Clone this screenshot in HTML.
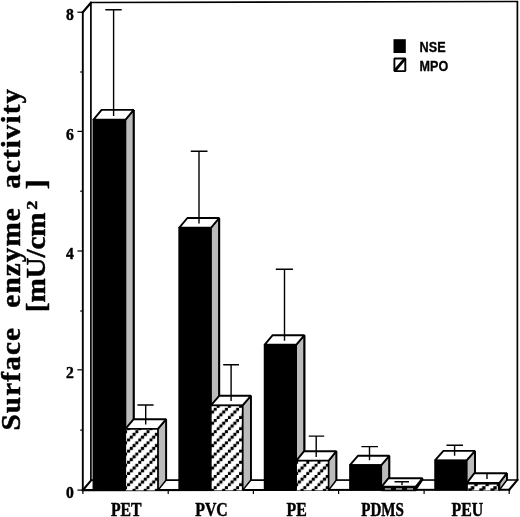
<!DOCTYPE html>
<html><head><meta charset="utf-8"><title>Surface enzyme activity</title>
<style>
html,body{margin:0;padding:0;background:#fff;}
body{width:520px;height:517px;overflow:hidden;font-family:"Liberation Serif",serif;}
svg{display:block;}
.ln{stroke:#000;stroke-width:1.5;fill:none;stroke-linecap:square;}
.th{stroke:#000;stroke-width:1.2;fill:none;}
.ser{font-family:"Liberation Serif",serif;font-weight:bold;fill:#000;stroke:#000;stroke-width:0.45;stroke-linejoin:round;}
.sans{font-family:"Liberation Sans",sans-serif;font-weight:bold;fill:#000;stroke:#000;stroke-width:0.3;}
</style></head><body>
<svg width="520" height="517" viewBox="0 0 520 517">
<defs>
<pattern id="hatch" patternUnits="userSpaceOnUse" width="11.2" height="11.2" x="127.1" y="430.2">
<rect width="11.2" height="11.2" fill="#fff"/>
<g fill="#000"><rect x="-0.18" y="8.22" width="3.15" height="3.15"/><rect x="2.62" y="5.42" width="3.15" height="3.15"/><rect x="5.42" y="2.62" width="3.15" height="3.15"/><rect x="8.22" y="-0.18" width="3.15" height="3.15"/></g>
</pattern>
<pattern id="hatchB" patternUnits="userSpaceOnUse" width="11.2" height="11.2" x="127.1" y="430.2">
<rect width="11.2" height="11.2" fill="#fff"/>
<g fill="#000"><rect x="-0.6" y="7.8" width="4" height="4"/><rect x="2.2" y="5" width="4" height="4"/><rect x="5" y="2.2" width="4" height="4"/><rect x="7.8" y="-0.6" width="4" height="4"/></g>
</pattern>
</defs>
<rect width="520" height="517" fill="#fff"/>

<g class="ln">
<path d="M90.9,480.0 L90.9,2.5 L517.4,1.5 L517.4,480.0 L90.9,480.1" stroke-width="1.7"/>
<path d="M82.8,12.2 L82.8,490.1" stroke-width="1.9"/>
<path d="M82.8,490.1 L509.2,489.8" stroke-width="2.1"/>
<path d="M82.8,12.2 L90.9,2.7 M82.8,490.1 L90.9,480.6 M509.2,489.8 L517.4,480.0" stroke-width="2.2"/>
</g>
<g class="th">
<path d="M77.4,490.1 L82.8,490.1"/>
<path d="M80.2,430.1 L82.8,430.1"/>
<path d="M77.4,369.8 L82.8,369.8"/>
<path d="M80.2,311.0 L82.8,311.0"/>
<path d="M77.4,251.0 L82.8,251.0"/>
<path d="M80.2,191.2 L82.8,191.2"/>
<path d="M77.4,131.4 L82.8,131.4"/>
<path d="M80.2,72.0 L82.8,72.0"/>
<path d="M77.4,12.2 L82.8,12.2"/>
<path d="M82.9,490.3 L82.9,494"/>
<path d="M168.2,490.3 L168.2,494"/>
<path d="M253.4,490.3 L253.4,494"/>
<path d="M338.6,490.3 L338.6,494"/>
<path d="M424.1,490.3 L424.1,494"/>
<path d="M509.2,490.3 L509.2,494"/>
</g>
<polygon points="125.4,119.8 133.7,109.9 133.7,480.0 125.4,490.4" fill="#bbbbbb" stroke="#000" stroke-width="1.5" stroke-linejoin="bevel"/>
<polygon points="93.3,119.8 101.6,109.9 133.7,109.9 125.4,119.8" fill="#fff" stroke="#000" stroke-width="1.9" stroke-linejoin="bevel"/>
<path d="M133.7,109.9 L133.7,480.0" stroke="#000" stroke-width="2.0"/>
<rect x="93.3" y="119.8" width="32.1" height="370.6" fill="#000"/>
<path d="M93.3,490.4 L93.3,119.8 L125.4,119.8 L125.4,490.4" fill="none" stroke="#000" stroke-width="1.5"/>
<path d="M105.3,9.7 L121.7,9.7 M113.6,9.7 L113.6,116.0" stroke="#000" stroke-width="1.4" fill="none"/>
<polygon points="157.9,428.9 166.2,419.2 166.2,480.0 157.9,490.4" fill="#bbbbbb" stroke="#000" stroke-width="1.5" stroke-linejoin="bevel"/>
<polygon points="125.4,428.9 133.7,419.2 166.2,419.2 157.9,428.9" fill="#fff" stroke="#000" stroke-width="1.9" stroke-linejoin="bevel"/>
<path d="M166.2,419.2 L166.2,480.0" stroke="#000" stroke-width="1.8"/>
<rect x="125.4" y="428.9" width="32.5" height="61.5" fill="url(#hatch)"/>
<path d="M125.4,490.4 L125.4,428.9 L157.9,428.9 L157.9,490.4" fill="none" stroke="#000" stroke-width="1.5"/>
<path d="M137.4,405.0 L153.6,405.0 M145.7,405.0 L145.7,424.5" stroke="#000" stroke-width="1.4" fill="none"/>
<polygon points="210.9,227.8 219.2,218.0 219.2,480.0 210.9,490.4" fill="#bbbbbb" stroke="#000" stroke-width="1.5" stroke-linejoin="bevel"/>
<polygon points="179.1,227.8 187.4,218.0 219.2,218.0 210.9,227.8" fill="#fff" stroke="#000" stroke-width="1.9" stroke-linejoin="bevel"/>
<path d="M219.2,218.0 L219.2,480.0" stroke="#000" stroke-width="2.0"/>
<rect x="179.1" y="227.8" width="31.8" height="262.6" fill="#000"/>
<path d="M179.1,490.4 L179.1,227.8 L210.9,227.8 L210.9,490.4" fill="none" stroke="#000" stroke-width="1.5"/>
<path d="M190.8,151.2 L207.5,151.2 M199.0,151.2 L199.0,223.6" stroke="#000" stroke-width="1.4" fill="none"/>
<polygon points="242.6,405.4 250.9,395.8 250.9,480.0 242.6,490.4" fill="#bbbbbb" stroke="#000" stroke-width="1.5" stroke-linejoin="bevel"/>
<polygon points="210.9,405.4 219.2,395.8 250.9,395.8 242.6,405.4" fill="#fff" stroke="#000" stroke-width="1.9" stroke-linejoin="bevel"/>
<path d="M250.9,395.8 L250.9,480.0" stroke="#000" stroke-width="1.8"/>
<rect x="210.9" y="405.4" width="31.7" height="85.0" fill="url(#hatch)"/>
<path d="M210.9,490.4 L210.9,405.4 L242.6,405.4 L242.6,490.4" fill="none" stroke="#000" stroke-width="1.5"/>
<path d="M223.2,364.8 L239.0,364.8 M231.1,364.8 L231.1,401.0" stroke="#000" stroke-width="1.4" fill="none"/>
<polygon points="296.2,344.8 304.4,335.2 304.4,480.0 296.2,490.4" fill="#bbbbbb" stroke="#000" stroke-width="1.5" stroke-linejoin="bevel"/>
<polygon points="264.5,344.8 272.7,335.2 304.4,335.2 296.2,344.8" fill="#fff" stroke="#000" stroke-width="1.9" stroke-linejoin="bevel"/>
<path d="M304.4,335.2 L304.4,480.0" stroke="#000" stroke-width="2.0"/>
<rect x="264.5" y="344.8" width="31.7" height="145.6" fill="#000"/>
<path d="M264.5,490.4 L264.5,344.8 L296.2,344.8 L296.2,490.4" fill="none" stroke="#000" stroke-width="1.5"/>
<path d="M275.8,269.3 L293.0,269.3 M284.5,269.3 L284.5,340.7" stroke="#000" stroke-width="1.4" fill="none"/>
<polygon points="328.5,460.8 336.4,451.2 336.4,480.0 328.5,490.4" fill="#bbbbbb" stroke="#000" stroke-width="1.5" stroke-linejoin="bevel"/>
<polygon points="296.2,460.8 304.1,451.2 336.4,451.2 328.5,460.8" fill="#fff" stroke="#000" stroke-width="1.9" stroke-linejoin="bevel"/>
<path d="M336.4,451.2 L336.4,480.0" stroke="#000" stroke-width="1.8"/>
<rect x="296.2" y="460.8" width="32.3" height="29.6" fill="url(#hatch)"/>
<path d="M296.2,490.4 L296.2,460.8 L328.5,460.8 L328.5,490.4" fill="none" stroke="#000" stroke-width="1.5"/>
<path d="M308.7,436.1 L324.2,436.1 M316.2,436.1 L316.2,457.0" stroke="#000" stroke-width="1.4" fill="none"/>
<polygon points="381.3,465.1 389.3,455.8 389.3,480.0 381.3,490.4" fill="#bbbbbb" stroke="#000" stroke-width="1.5" stroke-linejoin="bevel"/>
<polygon points="349.9,465.1 357.9,455.8 389.3,455.8 381.3,465.1" fill="#fff" stroke="#000" stroke-width="1.9" stroke-linejoin="bevel"/>
<path d="M389.3,455.8 L389.3,480.0" stroke="#000" stroke-width="2.0"/>
<rect x="349.9" y="465.1" width="31.4" height="25.3" fill="#000"/>
<path d="M349.9,490.4 L349.9,465.1 L381.3,465.1 L381.3,490.4" fill="none" stroke="#000" stroke-width="1.5"/>
<path d="M361.4,446.6 L378.0,446.6 M369.5,446.6 L369.5,460.3" stroke="#000" stroke-width="1.4" fill="none"/>
<polygon points="415.4,487.1 422.4,478.3 422.4,480.0 415.4,490.4" fill="#000" stroke="#000" stroke-width="1.5" stroke-linejoin="bevel"/>
<polygon points="381.3,487.1 388.3,478.3 422.4,478.3 415.4,487.1" fill="#fff" stroke="#000" stroke-width="1.9" stroke-linejoin="bevel"/>
<path d="M422.4,478.3 L422.4,480.0" stroke="#000" stroke-width="1.8"/>
<rect x="381.3" y="487.1" width="34.1" height="3.3" fill="url(#hatchB)"/>
<path d="M381.3,490.4 L381.3,487.1 L415.4,487.1 L415.4,490.4" fill="none" stroke="#000" stroke-width="2.5"/>
<rect x="381.3" y="486.1" width="34.9" height="5.1" fill="#000"/>
<rect x="384.9" y="488.3" width="6" height="1.3" fill="#c4c4c4"/>
<rect x="396.0" y="488.3" width="6" height="1.3" fill="#c4c4c4"/>
<rect x="407.1" y="488.3" width="6" height="1.3" fill="#c4c4c4"/>
<path d="M394.5,481.8 L409.0,481.8 M402.0,481.8 L402.0,485.0" stroke="#000" stroke-width="1.4" fill="none"/>
<polygon points="466.6,460.4 475.0,450.9 475.0,480.0 466.6,490.4" fill="#bbbbbb" stroke="#000" stroke-width="1.5" stroke-linejoin="bevel"/>
<polygon points="435.0,460.4 443.4,450.9 475.0,450.9 466.6,460.4" fill="#fff" stroke="#000" stroke-width="1.9" stroke-linejoin="bevel"/>
<path d="M475.0,450.9 L475.0,480.0" stroke="#000" stroke-width="2.0"/>
<rect x="435.0" y="460.4" width="31.6" height="30.0" fill="#000"/>
<path d="M435.0,490.4 L435.0,460.4 L466.6,460.4 L466.6,490.4" fill="none" stroke="#000" stroke-width="1.5"/>
<path d="M446.5,445.3 L463.0,445.3 M454.6,445.3 L454.6,455.8" stroke="#000" stroke-width="1.4" fill="none"/>
<polygon points="499.1,483.3 506.9,473.2 506.9,480.0 499.1,490.4" fill="#bbbbbb" stroke="#000" stroke-width="1.5" stroke-linejoin="bevel"/>
<polygon points="466.6,483.3 474.4,473.2 506.9,473.2 499.1,483.3" fill="#fff" stroke="#000" stroke-width="1.9" stroke-linejoin="bevel"/>
<path d="M506.9,473.2 L506.9,480.0" stroke="#000" stroke-width="1.8"/>
<rect x="466.6" y="483.3" width="32.5" height="7.1" fill="url(#hatchB)"/>
<path d="M466.6,490.4 L466.6,483.3 L499.1,483.3 L499.1,490.4" fill="none" stroke="#000" stroke-width="2.5"/>
<path d="M487.0,474.0 L487.0,474.0 M487.0,474.0 L487.0,479.0" stroke="#000" stroke-width="1.4" fill="none"/>
<text class="ser" transform="translate(73.9,20.3) scale(0.9,1)" font-size="17.4" text-anchor="end">8</text>
<text class="ser" transform="translate(73.9,139.5) scale(0.9,1)" font-size="17.4" text-anchor="end">6</text>
<text class="ser" transform="translate(73.9,259.1) scale(0.9,1)" font-size="17.4" text-anchor="end">4</text>
<text class="ser" transform="translate(73.9,377.9) scale(0.9,1)" font-size="17.4" text-anchor="end">2</text>
<text class="ser" transform="translate(73.9,498.2) scale(0.9,1)" font-size="17.4" text-anchor="end">0</text>
<text class="ser" transform="translate(126.3,516.0) scale(0.875,1)" font-size="18" text-anchor="middle">PET</text>
<text class="ser" transform="translate(211.5,516.0) scale(0.88,1)" font-size="18" text-anchor="middle">PVC</text>
<text class="ser" transform="translate(296.6,516.0) scale(0.88,1)" font-size="18" text-anchor="middle">PE</text>
<text class="ser" transform="translate(382.6,516.0) scale(0.835,1)" font-size="18" text-anchor="middle">PDMS</text>
<text class="ser" transform="translate(467.4,516.0) scale(0.88,1)" font-size="18" text-anchor="middle">PEU</text>
<rect x="393.5" y="39.2" width="12.3" height="13.8" fill="#000"/>
<rect x="394.4" y="58.5" width="10.9" height="12.6" fill="#fff" stroke="#000" stroke-width="1.9" stroke-linejoin="bevel"/>
<path d="M395,70.5 L404.6,59.2" stroke="#000" stroke-width="2.8"/>
<text class="sans" x="419.6" y="51.5" font-size="14" textLength="26.0" lengthAdjust="spacingAndGlyphs">NSE</text>
<text class="sans" x="419.6" y="70.8" font-size="14" textLength="28.6" lengthAdjust="spacingAndGlyphs">MPO</text>
<g transform="translate(19.6,0) rotate(-90)" font-size="28">
<text class="ser" transform="translate(-430.56,0) scale(1.04,1)" letter-spacing="1.15">Surface</text>
<text class="ser" transform="translate(-307.64,0) scale(1.04,1)" letter-spacing="1.07">enzyme</text>
<text class="ser" transform="translate(-188.74,0) scale(1.04,1)" letter-spacing="1.04">activity</text>
</g>
<g transform="translate(45.3,0) rotate(-90)" font-size="28">
<text class="ser" transform="translate(-312.2,0) scale(1.04,1)" letter-spacing="-0.09">[mU/cm</text>
<text class="ser" transform="translate(-209.8,-8.2) scale(1.25,1)" font-size="14.6">2</text>
<text class="ser" transform="translate(-189.3,0) scale(1.06,1)">]</text>
</g>
</svg></body></html>
